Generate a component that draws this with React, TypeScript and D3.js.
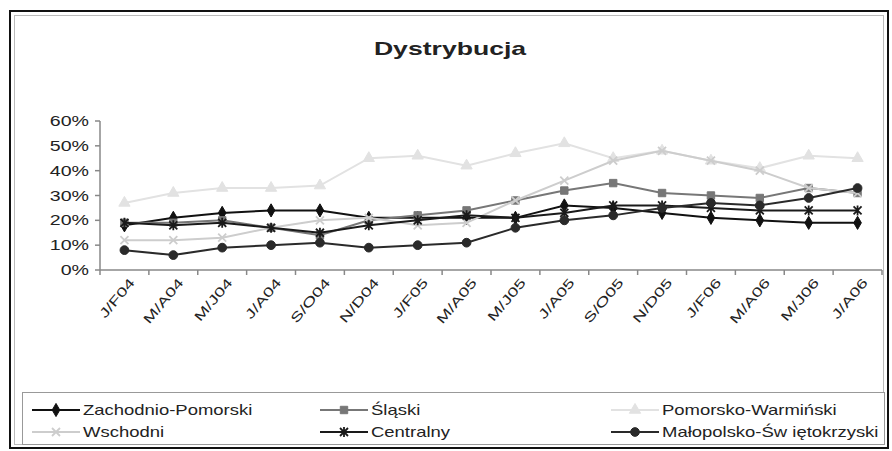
import {useMemo} from "react";
import * as d3 from "d3";

const WIDTH = 892;
const HEIGHT = 451;
const PLOT = {left: 100, right: 882, top: 121, bottom: 270};
const STRETCH = 1.4;

const categories = ["J/F04", "M/A04", "M/J04", "J/A04", "S/O04", "N/D04", "J/F05", "M/A05",
    "M/J05", "J/A05", "S/O05", "N/D05", "J/F06", "M/A06", "M/J06", "J/A06"];

const zachodnio = [18, 21, 23, 24, 24, 21, 21, 21, 21, 26, 25, 23, 21, 20, 19, 19];
const slaski = [19, 19, 20, 17, 14, 20, 22, 24, 28, 32, 35, 31, 30, 29, 33, 31];
const pomorsko = [27, 31, 33, 33, 34, 45, 46, 42, 47, 51, 45, 48, 44, 41, 46, 45];
const wschodni = [12, 12, 13, 17, 20, 21, 18, 19, 28, 36, 44, 48, 44, 40, 33, 31];
const centralny = [19, 18, 19, 17, 15, 18, 20, 22, 21, 23, 26, 26, 25, 24, 24, 24];
const malopolsko = [8, 6, 9, 10, 11, 9, 10, 11, 17, 20, 22, 25, 27, 26, 29, 33];

const yTicks = [0, 10, 20, 30, 40, 50, 60];

type Marker = "diamond" | "square" | "triangle" | "x" | "asterisk" | "circle";

const series: { name: string; values: number[]; color: string; marker: Marker }[] = [
    {name: "Zachodnio-Pomorski", values: zachodnio, color: "#111", marker: "diamond"},
    {name: "Śląski", values: slaski, color: "#777", marker: "square"},
    {name: "Pomorsko-Warmiński", values: pomorsko, color: "#e2e2e2", marker: "triangle"},
    {name: "Wschodni", values: wschodni, color: "#cdcdcd", marker: "x"},
    {name: "Centralny", values: centralny, color: "#1a1a1a", marker: "asterisk"},
    {name: "Małopolsko-Św iętokrzyski", values: malopolsko, color: "#2a2a2a", marker: "circle"},
];

// legend slots: column x of the line start, row y
const legendCols = [32, 320, 611];
const legendRows = [410, 432];

function markerPath(m: Marker): string {
    switch (m) {
        case "diamond":
            return d3.symbol(d3.symbolDiamond, 50)()!;
        case "square":
            return d3.symbol(d3.symbolSquare, 55)()!;
        case "triangle":
            return d3.symbol(d3.symbolTriangle, 55)()!;
        case "circle":
            return d3.symbol(d3.symbolCircle, 60)()!;
        case "x":
            return "M-4,-4L4,4M-4,4L4,-4";
        case "asterisk":
            return "M-4,-4L4,4M-4,4L4,-4M0,-5L0,5";
    }
}

function MarkerShape({m, x, y, color}: { m: Marker; x: number; y: number; color: string }) {
    const d = markerPath(m);
    const stroked = m === "x" || m === "asterisk";
    return (
        <path
            d={d}
            transform={`translate(${x},${y})`}
            fill={stroked ? "none" : color}
            stroke={color}
            strokeWidth={stroked ? 1.8 : 1}
        />
    );
}

function SText({x, y, size, anchor = "start", weight = "normal", sx = STRETCH, children}: {
    x: number; y: number; size: number; anchor?: string; weight?: string; sx?: number; children: string
}) {
    return (
        <text
            transform={`translate(${x},${y}) scale(${sx},1)`}
            fontSize={size}
            fontWeight={weight}
            textAnchor={anchor}
            fill="#222"
        >
            {children}
        </text>
    );
}

export default function App() {
    const xScale = useMemo(() => d3.scalePoint<string>()
        .domain(categories)
        .range([PLOT.left, PLOT.right])
        .padding(0.5), []);

    const yScale = useMemo(() => d3.scaleLinear()
        .domain([0, 60])
        .range([PLOT.bottom, PLOT.top]), []);

    const step = xScale.step();
    const tickXs = d3.range(categories.length + 1).map((i) => PLOT.left + i * step);

    const line = d3.line<number>()
        .x((_, i) => xScale(categories[i])!)
        .y((v) => yScale(v));

    return (
        <svg width={WIDTH} height={HEIGHT}
             style={{position: "absolute", left: 0, top: 0, fontFamily: "'Liberation Sans', Arial, sans-serif"}}>
            <rect x={0} y={0} width={WIDTH} height={HEIGHT} fill="white"/>
            {/* outer frame */}
            <rect x={10} y={11} width={878} height={437} fill="none" stroke="#111" strokeWidth={2}/>
            <rect x={14.5} y={15.5} width={869} height={429} fill="none" stroke="#bbb" strokeWidth={1}/>

            <SText x={450} y={55} size={19} anchor="middle" weight="bold">Dystrybucja</SText>

            {/* y axis */}
            <line x1={PLOT.left} x2={PLOT.left} y1={PLOT.top} y2={PLOT.bottom} stroke="#888" strokeWidth={1.5}/>
            {yTicks.map((t) => (
                <g key={t}>
                    <line x1={PLOT.left - 5} x2={PLOT.left} y1={yScale(t)} y2={yScale(t)} stroke="#888" strokeWidth={1.5}/>
                    <SText x={89} y={yScale(t) + 5} size={14} anchor="end">{`${t}%`}</SText>
                </g>
            ))}

            {/* x axis */}
            <line x1={PLOT.left} x2={PLOT.right} y1={PLOT.bottom} y2={PLOT.bottom} stroke="#888" strokeWidth={1.5}/>
            {tickXs.map((x, i) => (
                <line key={i} x1={x} x2={x} y1={PLOT.bottom} y2={PLOT.bottom + 5} stroke="#888" strokeWidth={1.5}/>
            ))}
            {categories.map((c) => (
                <text
                    key={c}
                    transform={`translate(${xScale(c)! + 11},${PLOT.bottom + 13}) rotate(-50) scale(1.45,1)`}
                    fontSize={13}
                    textAnchor="end"
                    fill="#222"
                >
                    {c}
                </text>
            ))}

            {/* series */}
            {series.map((s) => (
                <g key={s.name}>
                    <path d={line(s.values)!} fill="none" stroke={s.color} strokeWidth={2}/>
                    {s.values.map((v, i) => (
                        <MarkerShape key={i} m={s.marker} x={xScale(categories[i])!} y={yScale(v)} color={s.color}/>
                    ))}
                </g>
            ))}

            {/* legend */}
            <rect x={22.5} y={392.5} width={862} height={52} fill="white" stroke="#999" strokeWidth={1}/>
            {series.map((s, i) => {
                const x = legendCols[i % 3];
                const y = legendRows[Math.floor(i / 3)];
                return (
                    <g key={s.name}>
                        <line x1={x} x2={x + 48} y1={y} y2={y} stroke={s.color} strokeWidth={2}/>
                        <MarkerShape m={s.marker} x={x + 24} y={y} color={s.color}/>
                        <SText x={x + 51} y={y + 5} size={14} sx={1.32}>{s.name}</SText>
                    </g>
                );
            })}
        </svg>
    );
}
